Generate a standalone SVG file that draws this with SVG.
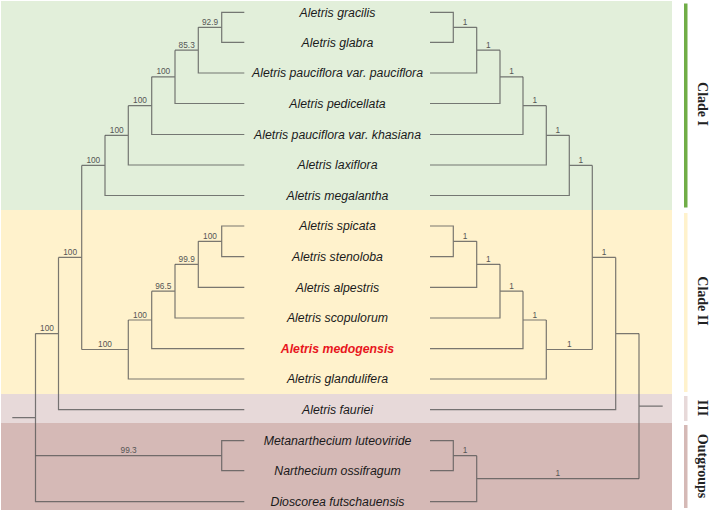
<svg xmlns="http://www.w3.org/2000/svg" width="709" height="513" viewBox="0 0 709 513">
<style>
.tx{font-family:"Liberation Sans",Arial,sans-serif;font-style:italic;font-size:12.3px;fill:#1a1a1a;text-anchor:middle}
.red{fill:#e8161d;font-weight:bold}
.bs{font-family:"Liberation Sans",Arial,sans-serif;font-size:8.3px;fill:#555;text-anchor:middle}
.cl{font-family:"Liberation Serif","Times New Roman",serif;font-weight:bold;font-size:14px;fill:#222;text-anchor:middle;dominant-baseline:central}
.br{fill:none;stroke:#555;stroke-opacity:0.78;stroke-width:1.2}
</style>
<g id="bands">
<rect x="1" y="1" width="671" height="209" fill="#e2efda"/>
<rect x="1" y="210" width="671" height="184" fill="#fff2cc"/>
<rect x="1" y="394" width="671" height="29" fill="#e7d9d9"/>
<rect x="1" y="423" width="671" height="87" fill="#d5b9b6"/>
</g>
<g id="bars">
<rect x="684" y="3.5" width="3.5" height="204" fill="#70ad47"/>
<rect x="684" y="213" width="3.5" height="179" fill="#fff2cc"/>
<rect x="684" y="396" width="3.5" height="25" fill="#e7d9d9"/>
<rect x="684" y="425" width="3.5" height="83" fill="#d5b9b6"/>
</g>
<g id="connectors" class="br">
<!-- left tree clade I -->
<path d="M244.3 12.3H221.7V42.3H244.3M221.7 27.3H198.3"/>
<path d="M198.3 27.3V73H244.3M198.3 50.2H175"/>
<path d="M175 50.2V103.5H244.3M175 76.8H151.7"/>
<path d="M151.7 76.8V134.5H244.3M151.7 105.7H128.3"/>
<path d="M128.3 105.7V165H244.3M128.3 135.3H105"/>
<path d="M105 135.3V195.5H244.3M105 165.4H81.7"/>
<!-- left clade II -->
<path d="M244.3 226H221.7V256.7H244.3M221.7 241.3H198.3"/>
<path d="M198.3 241.3V287.3H244.3M198.3 264.3H175"/>
<path d="M175 264.3V318H244.3M175 291.2H151.7"/>
<path d="M151.7 291.2V348.7H244.3M151.7 320H128.3"/>
<path d="M128.3 320V379H244.3M128.3 349.5H81.7"/>
<path d="M81.7 165.4V349.5M81.7 257.4H58.5"/>
<path d="M58.5 257.4V409.7H244.3M58.5 333.6H35.5"/>
<!-- left outgroups -->
<path d="M244.3 440.7H221.7V470.7H244.3M221.7 455.7H35.5"/>
<path d="M35.5 333.6V501.7H244.3M12.3 417.6H35.5"/>
<!-- right tree clade I -->
<path d="M430 12.3H453.3V42.3H430M453.3 27.3H476.7"/>
<path d="M476.7 27.3V73H430M476.7 50.2H500"/>
<path d="M500 50.2V103.5H430M500 76.8H523"/>
<path d="M523 76.8V134.5H430M523 105.7H546.3"/>
<path d="M546.3 105.7V165H430M546.3 135.3H569.3"/>
<path d="M569.3 135.3V195.5H430M569.3 165.4H592.3"/>
<!-- right clade II -->
<path d="M430 226H453.3V256.7H430M453.3 241.3H476.7"/>
<path d="M476.7 241.3V287.3H430M476.7 264.3H500"/>
<path d="M500 264.3V318H430M500 291.2H523"/>
<path d="M523 291.2V348.7H430M523 320H546.3"/>
<path d="M546.3 320V379H430M546.3 349.5H592.3"/>
<path d="M592.3 165.4V349.5M592.3 257.4H615.7"/>
<path d="M615.7 257.4V409.7H430M615.7 333.6H639"/>
<!-- right outgroups -->
<path d="M430 440.7H453.3V470.7H430M453.3 455.7H476.7"/>
<path d="M476.7 455.7V501.7H430M476.7 478.7H639"/>
<path d="M639 333.6V478.7M639 406.2H662.7"/>
</g>
<g id="support-left">
<text class="bs" x="210" y="24.8">92.9</text>
<text class="bs" x="186.7" y="47.7">85.3</text>
<text class="bs" x="163.3" y="74.3">100</text>
<text class="bs" x="140" y="103.2">100</text>
<text class="bs" x="116.7" y="132.8">100</text>
<text class="bs" x="93.3" y="162.9">100</text>
<text class="bs" x="70.1" y="254.9">100</text>
<text class="bs" x="210" y="238.8">100</text>
<text class="bs" x="186.7" y="261.8">99.9</text>
<text class="bs" x="163.3" y="288.7">96.5</text>
<text class="bs" x="140" y="317.5">100</text>
<text class="bs" x="105" y="347">100</text>
<text class="bs" x="47" y="331.1">100</text>
<text class="bs" x="128.6" y="453.2">99.3</text>
</g>
<g id="support-right">
<text class="bs" x="465" y="24.8">1</text>
<text class="bs" x="488.3" y="47.7">1</text>
<text class="bs" x="511.5" y="74.3">1</text>
<text class="bs" x="534.7" y="103.2">1</text>
<text class="bs" x="557.8" y="132.8">1</text>
<text class="bs" x="580.8" y="162.9">1</text>
<text class="bs" x="604" y="254.9">1</text>
<text class="bs" x="465" y="238.8">1</text>
<text class="bs" x="488.3" y="261.8">1</text>
<text class="bs" x="511.5" y="288.7">1</text>
<text class="bs" x="534.7" y="317.5">1</text>
<text class="bs" x="569.3" y="347">1</text>
<text class="bs" x="465" y="453.2">1</text>
<text class="bs" x="557.8" y="476.2">1</text>
</g>
<g id="taxa">
<g id="t-gracilis"><text class="tx" x="337.5" y="16.6">Aletris gracilis</text></g>
<g id="t-glabra"><text class="tx" x="337.5" y="46.6">Aletris glabra</text></g>
<g id="t-pauciflora"><text class="tx" x="337.5" y="77.3">Aletris pauciflora var. pauciflora</text></g>
<g id="t-pedicellata"><text class="tx" x="337.5" y="107.8">Aletris pedicellata</text></g>
<g id="t-khasiana"><text class="tx" x="337.5" y="138.8">Aletris pauciflora var. khasiana</text></g>
<g id="t-laxiflora"><text class="tx" x="337.5" y="169.3">Aletris laxiflora</text></g>
<g id="t-megalantha"><text class="tx" x="337.5" y="199.8">Aletris megalantha</text></g>
<g id="t-spicata"><text class="tx" x="337.5" y="230.3">Aletris spicata</text></g>
<g id="t-stenoloba"><text class="tx" x="337.5" y="261">Aletris stenoloba</text></g>
<g id="t-alpestris"><text class="tx" x="337.5" y="291.6">Aletris alpestris</text></g>
<g id="t-scopulorum"><text class="tx" x="337.5" y="322.3">Aletris scopulorum</text></g>
<g id="t-medogensis"><text class="tx red" x="337.5" y="353">Aletris medogensis</text></g>
<g id="t-glandulifera"><text class="tx" x="337.5" y="383.3">Aletris glandulifera</text></g>
<g id="t-fauriei"><text class="tx" x="337.5" y="414">Aletris fauriei</text></g>
<g id="t-metanarthecium"><text class="tx" x="337.5" y="445">Metanarthecium luteoviride</text></g>
<g id="t-narthecium"><text class="tx" x="337.5" y="475">Narthecium ossifragum</text></g>
<g id="t-dioscorea"><text class="tx" x="337.5" y="506">Dioscorea futschauensis</text></g>
</g>
<g id="clade-labels">
<text class="cl" transform="translate(702 104) rotate(90)">Clade I</text>
<text class="cl" transform="translate(702 301) rotate(90)">Clade II</text>
<text class="cl" transform="translate(702 408) rotate(90)">III</text>
<text class="cl" transform="translate(702 466) rotate(90)">Outgroups</text>
</g>
</svg>
